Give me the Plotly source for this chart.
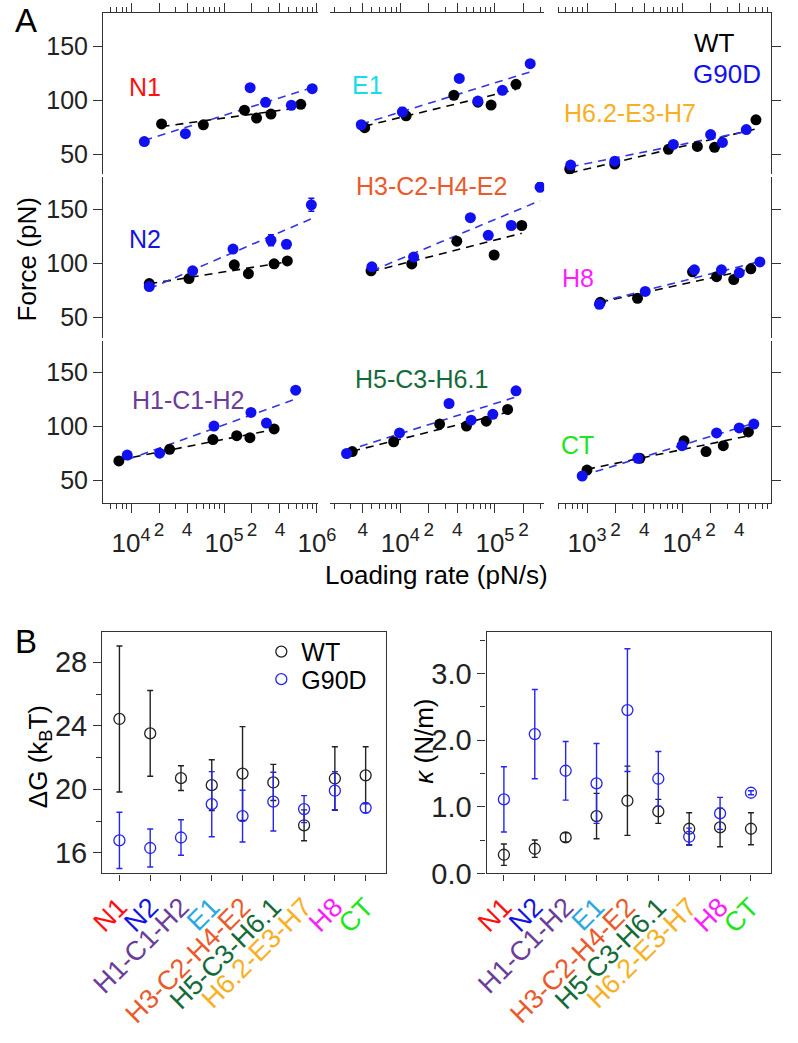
import numpy as np
import plotly.graph_objects as go

W, H = 798, 1043
FONT = "Arial, 'Liberation Sans', sans-serif"
AXC = "#333333"
BLACK = "#000000"
BLUE = "#1010F0"
BLUE_LINE = "#3535E0"

# ---------------- Panel A : rupture force (pN) vs loading rate (pN/s) ----------------
# row 1
n1_rate_wt = [2.13e4, 6.0e4, 1.66e5, 2.24e5, 3.2e5, 6.7e5]
n1_force_wt = [78.2, 77.3, 90.9, 83.6, 87.3, 96.4]
n1_rate_mut = [1.39e4, 3.84e4, 1.91e5, 2.8e5, 5.3e5, 8.9e5]
n1_force_mut = [61.8, 69.1, 111.8, 98.2, 95.5, 110.9]
n1_err_mut = [0, 0, 0, 0, 0, 0]

e1_rate_wt = [4.2e3, 1.15e4, 3.68e4, 6.6e4, 9.1e4, 1.67e5]
e1_force_wt = [74.7, 85.7, 104.8, 98.4, 95.7, 114.9]
e1_rate_mut = [3.86e3, 1.05e4, 4.2e4, 6.6e4, 1.2e5, 2.36e5]
e1_force_mut = [77.4, 89.3, 120.4, 99.4, 109.4, 134.1]
e1_err_mut = [0, 4, 0, 0, 0, 0]

h62_rate_wt = [658, 1.96e3, 7.2e3, 1.45e4, 2.2e4, 6.0e4]
h62_force_wt = [36.3, 40.9, 54.6, 57.3, 56.4, 82.0]
h62_rate_mut = [673, 1.96e3, 8.1e3, 2.0e4, 2.66e4, 4.75e4]
h62_force_mut = [40.0, 43.6, 59.1, 68.3, 61.0, 72.9]
h62_err_mut = [0, 0, 0, 0, 0, 0]

# row 2
n2_rate_wt = [1.57e4, 4.2e4, 1.29e5, 1.83e5, 3.46e5, 4.8e5]
n2_force_wt = [81.3, 85.9, 98.7, 90.5, 99.6, 102.3]
n2_rate_mut = [1.57e4, 4.6e4, 1.25e5, 3.2e5, 4.7e5, 8.7e5]
n2_force_mut = [78.5, 93.1, 113.3, 121.5, 117.8, 154.4]
n2_err_mut = [0, 0, 0, 5, 0, 6]

h3_rate_wt = [4.9e3, 1.32e4, 3.95e4, 9.8e4, 1.92e5]
h3_force_wt = [93.1, 99.5, 120.6, 107.8, 135.2]
h3_rate_mut = [5.0e3, 1.38e4, 5.5e4, 8.5e4, 1.49e5, 3.0e5]
h3_force_mut = [96.8, 105.9, 142.5, 126.1, 135.2, 170.8]
h3_err_mut = [0, 0, 0, 0, 0, 4]

h8_rate_wt = [1.38e3, 3.4e3, 1.29e4, 2.31e4, 3.5e4, 5.3e4]
h8_force_wt = [63.9, 67.6, 92.2, 87.7, 85.0, 95.0]
h8_rate_mut = [1.35e3, 4.1e3, 1.35e4, 2.6e4, 4.0e4, 6.6e4]
h8_force_mut = [62.1, 74.0, 94.1, 94.1, 91.3, 101.4]
h8_err_mut = [0, 0, 0, 0, 0, 0]

# row 3
h1_rate_wt = [7.4e3, 2.6e4, 7.6e4, 1.37e5, 1.9e5, 3.46e5]
h1_force_wt = [67.9, 78.7, 87.7, 91.3, 89.5, 97.6]
h1_rate_mut = [9.1e3, 2.03e4, 7.8e4, 1.95e5, 2.86e5, 5.9e5]
h1_force_mut = [73.3, 75.1, 100.3, 112.9, 103.0, 133.6]
h1_err_mut = [0, 0, 0, 0, 0, 0]

h5_rate_wt = [3.1e3, 8.5e3, 2.6e4, 5.0e4, 8.1e4, 1.36e5]
h5_force_wt = [76.6, 85.7, 102.1, 100.3, 104.8, 115.7]
h5_rate_mut = [2.7e3, 9.8e3, 3.27e4, 5.6e4, 9.5e4, 1.67e5]
h5_force_mut = [74.8, 93.9, 121.2, 105.7, 111.2, 133.0]
h5_err_mut = [0, 0, 0, 0, 0, 0]

ct_rate_wt = [1.0e3, 3.6e3, 1.05e4, 1.79e4, 2.72e4, 5.0e4]
ct_force_wt = [59.4, 70.3, 86.6, 76.6, 82.1, 94.8]
ct_rate_mut = [890, 3.43e3, 1.0e4, 2.31e4, 4.0e4, 5.7e4]
ct_force_mut = [53.9, 70.3, 82.1, 93.9, 98.5, 102.1]
ct_err_mut = [0, 0, 0, 0, 0, 0]

# x-axis tick values per column (pN/s)
col1_ticks = [1e4, 2e4, 4e4, 1e5, 2e5, 4e5, 1e6]
col2_ticks = [4e3, 1e4, 2e4, 4e4, 1e5, 2e5]
col3_ticks = [1e3, 2e3, 4e3, 1e4, 2e4, 4e4]
force_ticks = [50, 100, 150]

# ---------------- Panel B ----------------
segments = ["N1", "N2", "H1-C1-H2", "E1", "H3-C2-H4-E2", "H5-C3-H6.1",
            "H6.2-E3-H7", "H8", "CT"]
seg_colors = ["#FF1010", "#1414E0", "#6A3D9A", "#2AA8E0", "#EA5A2B", "#146B3A",
              "#F7B024", "#FF1CFF", "#1EE61E"]
dg_wt = [24.43, 23.52, 20.70, 20.26, 20.99, 20.43, 17.73, 20.68, 20.88]
dg_wt_err = [4.6, 2.7, 0.78, 1.6, 2.96, 1.14, 0.97, 2.0, 1.8]
dg_mut = [16.78, 16.30, 16.96, 19.06, 18.31, 19.22, 18.75, 19.91, 18.83]
dg_mut_err = [1.77, 1.2, 1.12, 2.05, 1.63, 1.85, 0.85, 1.2, 0.3]
kappa_wt = [0.28, 0.37, 0.54, 0.86, 1.09, 0.93, 0.67, 0.69, 0.67]
kappa_wt_err = [0.16, 0.13, 0.07, 0.34, 0.52, 0.18, 0.24, 0.29, 0.24]
kappa_mut = [1.11, 2.09, 1.54, 1.35, 2.45, 1.42, 0.55, 0.90, 1.21]
kappa_mut_err = [0.49, 0.67, 0.44, 0.60, 0.92, 0.41, 0.13, 0.24, 0.03]

# ---------------- assemble ----------------
panels = [
    ("N1", "#FF1010", n1_rate_wt, n1_force_wt, n1_rate_mut, n1_force_mut, n1_err_mut),
    ("E1", "#19DCEB", e1_rate_wt, e1_force_wt, e1_rate_mut, e1_force_mut, e1_err_mut),
    ("H6.2-E3-H7", "#F7B024", h62_rate_wt, h62_force_wt, h62_rate_mut, h62_force_mut, h62_err_mut),
    ("N2", "#1414E0", n2_rate_wt, n2_force_wt, n2_rate_mut, n2_force_mut, n2_err_mut),
    ("H3-C2-H4-E2", "#EA5A2B", h3_rate_wt, h3_force_wt, h3_rate_mut, h3_force_mut, h3_err_mut),
    ("H8", "#FF1CFF", h8_rate_wt, h8_force_wt, h8_rate_mut, h8_force_mut, h8_err_mut),
    ("H1-C1-H2", "#6A3D9A", h1_rate_wt, h1_force_wt, h1_rate_mut, h1_force_mut, h1_err_mut),
    ("H5-C3-H6.1", "#146B3A", h5_rate_wt, h5_force_wt, h5_rate_mut, h5_force_mut, h5_err_mut),
    ("CT", "#1EE61E", ct_rate_wt, ct_force_wt, ct_rate_mut, ct_force_mut, ct_err_mut),
]
# label centres in pixels (layout only)
label_px = [(137, 88), (369, 86), (643, 115), (137, 243), (436, 189), (588, 282),
            (182, 406), (425, 385), (588, 452)]

col_px = [(93, 317), (330, 553), (567, 790)]
col_rng = [[3.70, 6.01], [3.26, 5.52], [2.69, 4.94]]
col_ticks = [col1_ticks, col2_ticks, col3_ticks]
row_px = [(13.5, 177.0), (180.0, 343.0), (346.0, 511.0)]
row_rng = [[31.4, 180.9], [31.0, 180.0], [28.7, 179.5]]


def px_x(a, b):
    return [a / W, b / W]


def px_y(t, b):
    return [1 - b / H, 1 - t / H]


def minor_vals(rng, majors):
    out = []
    for d in range(int(np.floor(rng[0])), int(np.ceil(rng[1])) + 1):
        for m in range(1, 10):
            v = m * 10.0 ** d
            lv = np.log10(v)
            if rng[0] <= lv <= rng[1] and not any(abs(v - t) / t < 1e-6 for t in majors):
                out.append(v)
    return out


def small_label(v):
    e = np.floor(np.log10(v) + 1e-9)
    m = int(round(v / 10 ** e))
    return "" if m == 1 else str(m)


fig = go.Figure()
layout = dict(
    width=W, height=H, margin=dict(l=0, r=0, t=0, b=0),
    paper_bgcolor="white", plot_bgcolor="white",
    font=dict(family=FONT, color=BLACK, size=24),
    showlegend=True,
)
annotations = []

for i, (name, col, rw, fw, rm, fm, em) in enumerate(panels):
    r, c = divmod(i, 3)
    k = i + 1
    xa = "x" if k == 1 else f"x{k}"
    ya = "y" if k == 1 else f"y{k}"
    xkey = "xaxis" if k == 1 else f"xaxis{k}"
    ykey = "yaxis" if k == 1 else f"yaxis{k}"

    # fits (linear in log loading rate)
    for rates, forces, lc in ((rw, fw, BLACK), (rm, fm, BLUE_LINE)):
        p = np.polyfit(np.log10(rates), forces, 1)
        xs = np.array([min(rates), max(rates)])
        fig.add_trace(go.Scatter(x=xs, y=p[0] * np.log10(xs) + p[1], mode="lines",
                                 line=dict(color=lc, width=1.6, dash="8px,6px"),
                                 xaxis=xa, yaxis=ya, showlegend=False, hoverinfo="skip"))
    fig.add_trace(go.Scatter(x=rw, y=fw, mode="markers",
                             marker=dict(color=BLACK, size=11),
                             xaxis=xa, yaxis=ya, showlegend=False))
    fig.add_trace(go.Scatter(x=rm, y=fm, mode="markers",
                             marker=dict(color=BLUE, size=11),
                             error_y=dict(type="data", array=em, color=BLUE, thickness=1.5, width=3),
                             xaxis=xa, yaxis=ya, showlegend=False))

    majors = col_ticks[c]
    xdict = dict(type="log", range=col_rng[c], domain=px_x(*col_px[c]), anchor=ya,
                 showgrid=False, zeroline=False)
    if r == 0:
        xdict.update(side="top", showline=True, linecolor=AXC, linewidth=1.3,
                     ticks="outside", ticklen=9, tickwidth=1.2, tickcolor=AXC,
                     tickmode="array", tickvals=majors, showticklabels=False,
                     minor=dict(tickvals=minor_vals(col_rng[c], majors), ticks="outside",
                                ticklen=5, tickwidth=1.1, tickcolor=AXC))
    elif r == 2:
        xdict.update(side="bottom", showline=True, linecolor=AXC, linewidth=1.3,
                     ticks="outside", ticklen=9, tickwidth=1.2, tickcolor=AXC,
                     tickmode="array", tickvals=majors,
                     ticktext=[small_label(v) for v in majors],
                     tickfont=dict(size=19, color="#222"),
                     minor=dict(tickvals=minor_vals(col_rng[c], majors), ticks="outside",
                                ticklen=5, tickwidth=1.1, tickcolor=AXC))
    else:
        xdict.update(visible=False)
    layout[xkey] = xdict

    ydict = dict(range=row_rng[r], domain=px_y(*row_px[r]), anchor=xa,
                 showgrid=False, zeroline=False)
    if c == 0:
        ydict.update(showline=True, linecolor=AXC, linewidth=1.3, ticks="outside",
                     ticklen=9, tickwidth=1.2, tickcolor=AXC, tickmode="array",
                     tickvals=force_ticks, tickfont=dict(size=25, color="#222"))
    elif c == 2:
        ydict.update(side="right", showline=True, linecolor=AXC, linewidth=1.3,
                     ticks="outside", ticklen=9, tickwidth=1.2, tickcolor=AXC,
                     tickmode="array", tickvals=force_ticks, showticklabels=False)
    else:
        ydict.update(visible=False)
    layout[ykey] = ydict

    lx, ly = label_px[i]
    annotations.append(dict(text=name, x=lx / W, y=1 - ly / H, xref="paper", yref="paper",
                            showarrow=False, font=dict(size=25, color=col),
                            xanchor="center", yanchor="middle"))

# decade labels on overlaying axes (bottom row)
for c in range(3):
    k = 10 + c
    base = 7 + c
    decades = [v for v in col_ticks[c] if small_label(v) == ""]
    layout[f"xaxis{k}"] = dict(type="log", range=col_rng[c], overlaying=f"x{base}",
                               anchor=f"y{base}", side="bottom", showline=False,
                               showgrid=False, zeroline=False, ticks="",
                               tickmode="array", tickvals=decades,
                               ticktext=[f"10<sup>{int(round(np.log10(v)))}</sup>" for v in decades],
                               tickfont=dict(size=26, color="#222"), ticklabelstandoff=22)
    fig.add_trace(go.Scatter(x=[None], y=[None], xaxis=f"x{k}", yaxis=f"y{base}",
                             showlegend=False, hoverinfo="skip"))

# ---------------- Panel B traces ----------------
for xa, ya, wt, wte, mu, mue in (("x13", "y13", dg_wt, dg_wt_err, dg_mut, dg_mut_err),
                                 ("x14", "y14", kappa_wt, kappa_wt_err, kappa_mut, kappa_mut_err)):
    leg = xa == "x13"
    fig.add_trace(go.Scatter(x=segments, y=wt, mode="markers", name="WT",
                             marker=dict(symbol="circle-open", size=11, color="#222222",
                                         line=dict(width=1.3)),
                             error_y=dict(type="data", array=wte, color="#222222",
                                          thickness=1.4, width=3),
                             xaxis=xa, yaxis=ya, showlegend=leg, legend="legend"))
    fig.add_trace(go.Scatter(x=segments, y=mu, mode="markers", name="G90D",
                             marker=dict(symbol="circle-open", size=11, color="#2525EE",
                                         line=dict(width=1.3)),
                             error_y=dict(type="data", array=mue, color="#2525EE",
                                          thickness=1.4, width=3),
                             xaxis=xa, yaxis=ya, showlegend=leg, legend="legend2"))

cat_text = [f"<span style='color:{cc}'>{s}</span>" for s, cc in zip(segments, seg_colors)]
for k, xr in ((13, (92, 388)), (14, (493, 790))):
    layout[f"xaxis{k}"] = dict(type="category", range=[-0.56, 8.66], domain=px_x(*xr),
                               anchor=f"y{k}", showline=True, mirror=True, linecolor=AXC,
                               linewidth=1.3, ticks="outside", ticklen=6, tickwidth=1.2,
                               tickcolor=AXC, tickmode="array", tickvals=segments,
                               ticktext=cat_text, tickangle=-45,
                               tickfont=dict(size=27), showgrid=False, zeroline=False)
layout["yaxis13"] = dict(range=[14.7, 29.9], domain=px_y(642, 887), anchor="x13",
                         showline=True, mirror=True, linecolor=AXC, linewidth=1.3,
                         ticks="outside", ticklen=8, tickwidth=1.2, tickcolor=AXC,
                         tickmode="array", tickvals=[16, 20, 24, 28],
                         tickfont=dict(size=29, color="#222"),
                         minor=dict(tickvals=[18, 22, 26], ticks="outside", ticklen=5,
                                    tickwidth=1.1, tickcolor=AXC),
                         showgrid=False, zeroline=False)
layout["yaxis14"] = dict(range=[0, 3.62], domain=px_y(642, 887), anchor="x14",
                         showline=True, mirror=True, linecolor=AXC, linewidth=1.3,
                         ticks="outside", ticklen=8, tickwidth=1.2, tickcolor=AXC,
                         tickmode="array", tickvals=[0, 1, 2, 3],
                         ticktext=["0.0", "1.0", "2.0", "3.0"],
                         tickfont=dict(size=29, color="#222"),
                         minor=dict(tickvals=[0.5, 1.5, 2.5, 3.5], ticks="outside", ticklen=5,
                                    tickwidth=1.1, tickcolor=AXC),
                         showgrid=False, zeroline=False)

leg_common = dict(x=258 / W, xanchor="left", yanchor="middle", font=dict(size=25),
                  bgcolor="rgba(0,0,0,0)", itemwidth=30)
layout["legend"] = dict(y=1 - 662 / H, **leg_common)
layout["legend2"] = dict(y=1 - 690 / H, **leg_common)

# titles / panel letters / legend text for A
annotations += [
    dict(text="Force (pN)", x=14 / W, y=1 - 263 / H, textangle=-90, font=dict(size=26)),
    dict(text="Loading rate (pN/s)", x=441 / W, y=1 - 584 / H, font=dict(size=26)),
    dict(text="A", x=13 / W, y=1.0, yanchor="top", font=dict(size=33)),
    dict(text="B", x=13 / W, y=1 - 631 / H, yanchor="top", font=dict(size=33)),
    dict(text="WT", x=731 / W, y=1 - 44 / H, font=dict(size=26, color=BLACK)),
    dict(text="G90D", x=744 / W, y=1 - 75 / H, font=dict(size=26, color=BLUE)),
    dict(text="ΔG (k<sub>B</sub>T)", x=26 / W, y=1 - 768 / H, textangle=-90, font=dict(size=26)),
    dict(text="<i>κ</i> (N/m)", x=428 / W, y=1 - 753 / H, textangle=-90, font=dict(size=26)),
]
for a in annotations:
    a.setdefault("xref", "paper")
    a.setdefault("yref", "paper")
    a.setdefault("showarrow", False)
    a.setdefault("xanchor", "center")
    a.setdefault("yanchor", "middle")
layout["annotations"] = annotations

fig.update_layout(**layout)
fig.write_html("out.html", config={"displayModeBar": False},
               post_script="document.body.style.margin='0px';")
